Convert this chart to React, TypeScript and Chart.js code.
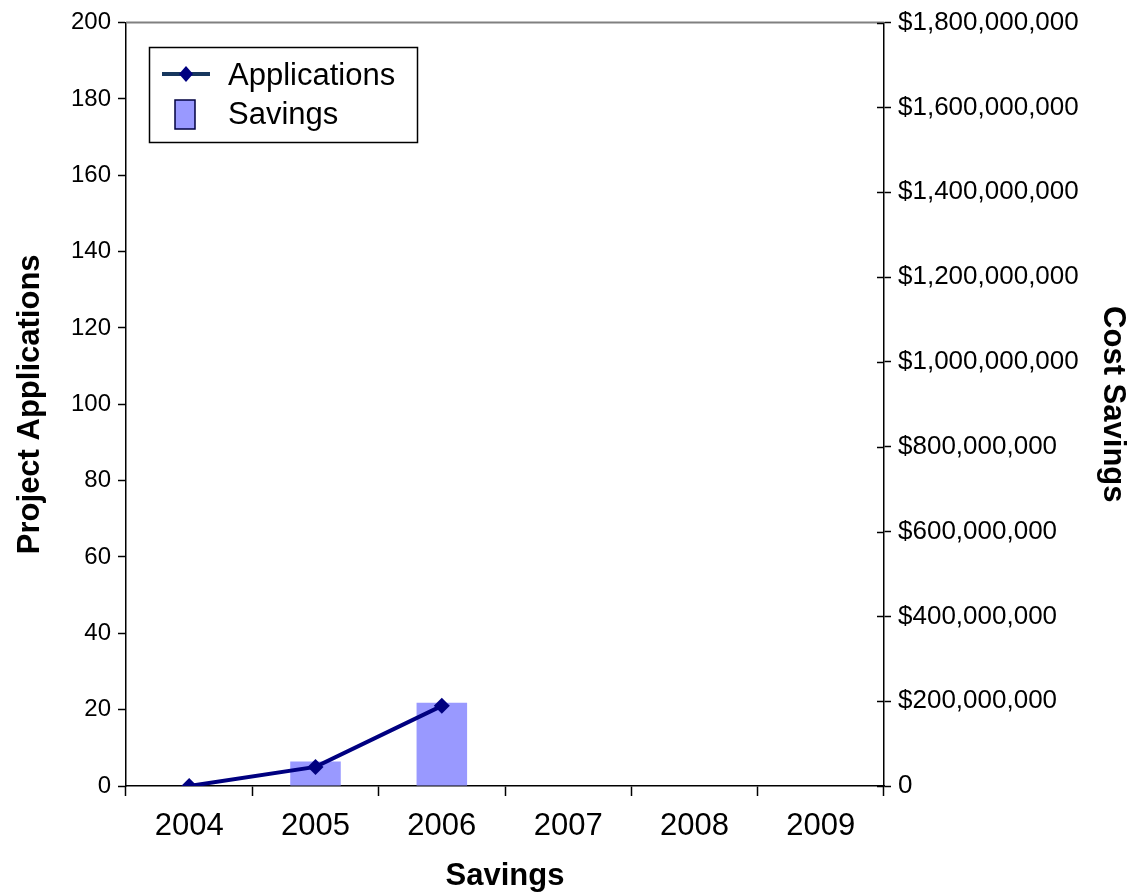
import React, { useEffect, useRef } from "react";
import { Chart, registerables } from "chart.js";

Chart.register(...registerables);

// Yearly figures
const years = ["2004", "2005", "2006", "2007", "2008", "2009"];
const applications = [0, 5, 21, null, null, null];
const savings = [0, 58000000, 196000000, null, null, null];

// Axis ranges
const applicationsMax = 200;
const applicationsStep = 20;
const savingsMax = 1800000000;
const savingsStep = 200000000;

const FONT = "'Liberation Sans', Arial, Helvetica, sans-serif";
const NAVY = "#000080";
const BAR_FILL = "#9999FF";

const formatDollars = (v: number) =>
  v === 0 ? "0" : "$" + Math.round(v).toLocaleString("en-US");

// Top border of the plot, inner half of right-axis ticks, and the boxed legend
const decorations = {
  id: "decorations",
  afterDraw(chart: any) {
    const { ctx, chartArea } = chart;
    const { left, right, top } = chartArea;
    ctx.save();

    ctx.strokeStyle = "#808080";
    ctx.lineWidth = 2;
    ctx.beginPath();
    ctx.moveTo(left, top);
    ctx.lineTo(right, top);
    ctx.stroke();

    const yR = chart.scales.ySavings;
    ctx.strokeStyle = "#000";
    ctx.lineWidth = 1.5;
    for (let v = 0; v <= savingsMax; v += savingsStep) {
      const y = Math.round(yR.getPixelForValue(v)) + 0.5;
      ctx.beginPath();
      ctx.moveTo(right - 7, y);
      ctx.lineTo(right, y);
      ctx.stroke();
    }

    // Legend box
    const bx = 149.5, by = 47.5, bw = 268, bh = 95;
    ctx.fillStyle = "#fff";
    ctx.fillRect(bx, by, bw, bh);
    ctx.strokeStyle = "#000";
    ctx.lineWidth = 1.5;
    ctx.strokeRect(bx, by, bw, bh);

    // Applications entry: line with diamond
    ctx.strokeStyle = "#17375E";
    ctx.lineWidth = 4;
    ctx.beginPath();
    ctx.moveTo(162, 74);
    ctx.lineTo(210, 74);
    ctx.stroke();
    ctx.fillStyle = NAVY;
    ctx.beginPath();
    ctx.moveTo(186, 66);
    ctx.lineTo(193, 74);
    ctx.lineTo(186, 82);
    ctx.lineTo(179, 74);
    ctx.closePath();
    ctx.fill();

    // Savings entry: swatch
    ctx.fillStyle = BAR_FILL;
    ctx.fillRect(175, 100, 20, 29);
    ctx.strokeStyle = "#000040";
    ctx.lineWidth = 1.5;
    ctx.strokeRect(175, 100, 20, 29);

    ctx.fillStyle = "#000";
    ctx.font = `31px ${FONT}`;
    ctx.textAlign = "left";
    ctx.textBaseline = "alphabetic";
    ctx.fillText("Applications", 228, 85);
    ctx.fillText("Savings", 228, 124);

    ctx.restore();
  },
};

export default function App() {
  const canvasRef = useRef<HTMLCanvasElement | null>(null);

  useEffect(() => {
    document.body.style.margin = "0";
    const canvas = canvasRef.current;
    if (!canvas) return;

    const chart = new Chart(canvas, {
      type: "bar",
      data: {
        labels: years,
        datasets: [
          {
            type: "line",
            label: "Applications",
            data: applications,
            yAxisID: "yApps",
            borderColor: NAVY,
            backgroundColor: NAVY,
            borderWidth: 4,
            pointStyle: "rectRot",
            pointRadius: 8,
            pointBackgroundColor: NAVY,
            pointBorderColor: NAVY,
            pointBorderWidth: 0,
            spanGaps: false,
            tension: 0,
            order: 0,
          } as any,
          {
            type: "bar",
            label: "Savings",
            data: savings,
            yAxisID: "ySavings",
            backgroundColor: BAR_FILL,
            borderWidth: 0,
            barPercentage: 0.4,
            categoryPercentage: 1,
            order: 1,
          },
        ],
      },
      options: {
        responsive: false,
        animation: false,
        layout: { padding: { top: 19, left: 0, right: 0, bottom: 0 } },
        plugins: {
          legend: { display: false },
          tooltip: { enabled: false },
        },
        scales: {
          x: {
            offset: true,
            grid: {
              offset: true,
              drawOnChartArea: false,
              drawTicks: true,
              tickLength: 10,
              tickColor: "#000",
              tickWidth: 1.5,
            },
            border: { display: true, color: "#000", width: 1.5 },
            ticks: {
              color: "#000",
              font: { family: FONT, size: 31 },
              padding: 12,
              maxRotation: 0,
            },
            title: {
              display: true,
              text: "Savings",
              color: "#000",
              font: { family: FONT, size: 31, weight: "bold", lineHeight: 1 },
              padding: { top: 0, bottom: 1 },
            },
            afterFit: (s: any) => {
              s.height = 107;
            },
          },
          yApps: {
            position: "left",
            min: 0,
            max: applicationsMax,
            grid: {
              drawOnChartArea: false,
              drawTicks: true,
              tickLength: 8,
              tickColor: "#000",
              tickWidth: 1.5,
            },
            border: { display: true, color: "#000", width: 1.5 },
            ticks: {
              stepSize: applicationsStep,
              color: "#000",
              font: { family: FONT, size: 24 },
              padding: 7,
            },
            title: {
              display: true,
              text: "Project Applications",
              color: "#000",
              font: { family: FONT, size: 31, weight: "bold", lineHeight: 1 },
              padding: { top: 15, bottom: 0 },
            },
            afterFit: (s: any) => {
              s.width = 126;
            },
          },
          ySavings: {
            position: "right",
            min: 0,
            max: savingsMax,
            grid: {
              drawOnChartArea: false,
              drawTicks: true,
              tickLength: 7,
              tickColor: "#000",
              tickWidth: 1.5,
            },
            border: { display: true, color: "#000", width: 1.5 },
            ticks: {
              stepSize: savingsStep,
              color: "#000",
              font: { family: FONT, size: 26 },
              padding: 7,
              callback: (v: any) => formatDollars(Number(v)),
            },
            title: {
              display: true,
              text: "Cost Savings",
              color: "#000",
              font: { family: FONT, size: 31, weight: "bold", lineHeight: 1 },
              padding: { top: 10, bottom: 0 },
            },
            afterFit: (s: any) => {
              s.width = 254;
            },
          },
        },
      },
      plugins: [decorations],
    });

    return () => chart.destroy();
  }, []);

  return (
    <div style={{ width: 1138, height: 893, background: "#fff" }}>
      <canvas
        ref={canvasRef}
        width={1138}
        height={893}
        style={{ display: "block", width: 1138, height: 893 }}
      />
    </div>
  );
}
